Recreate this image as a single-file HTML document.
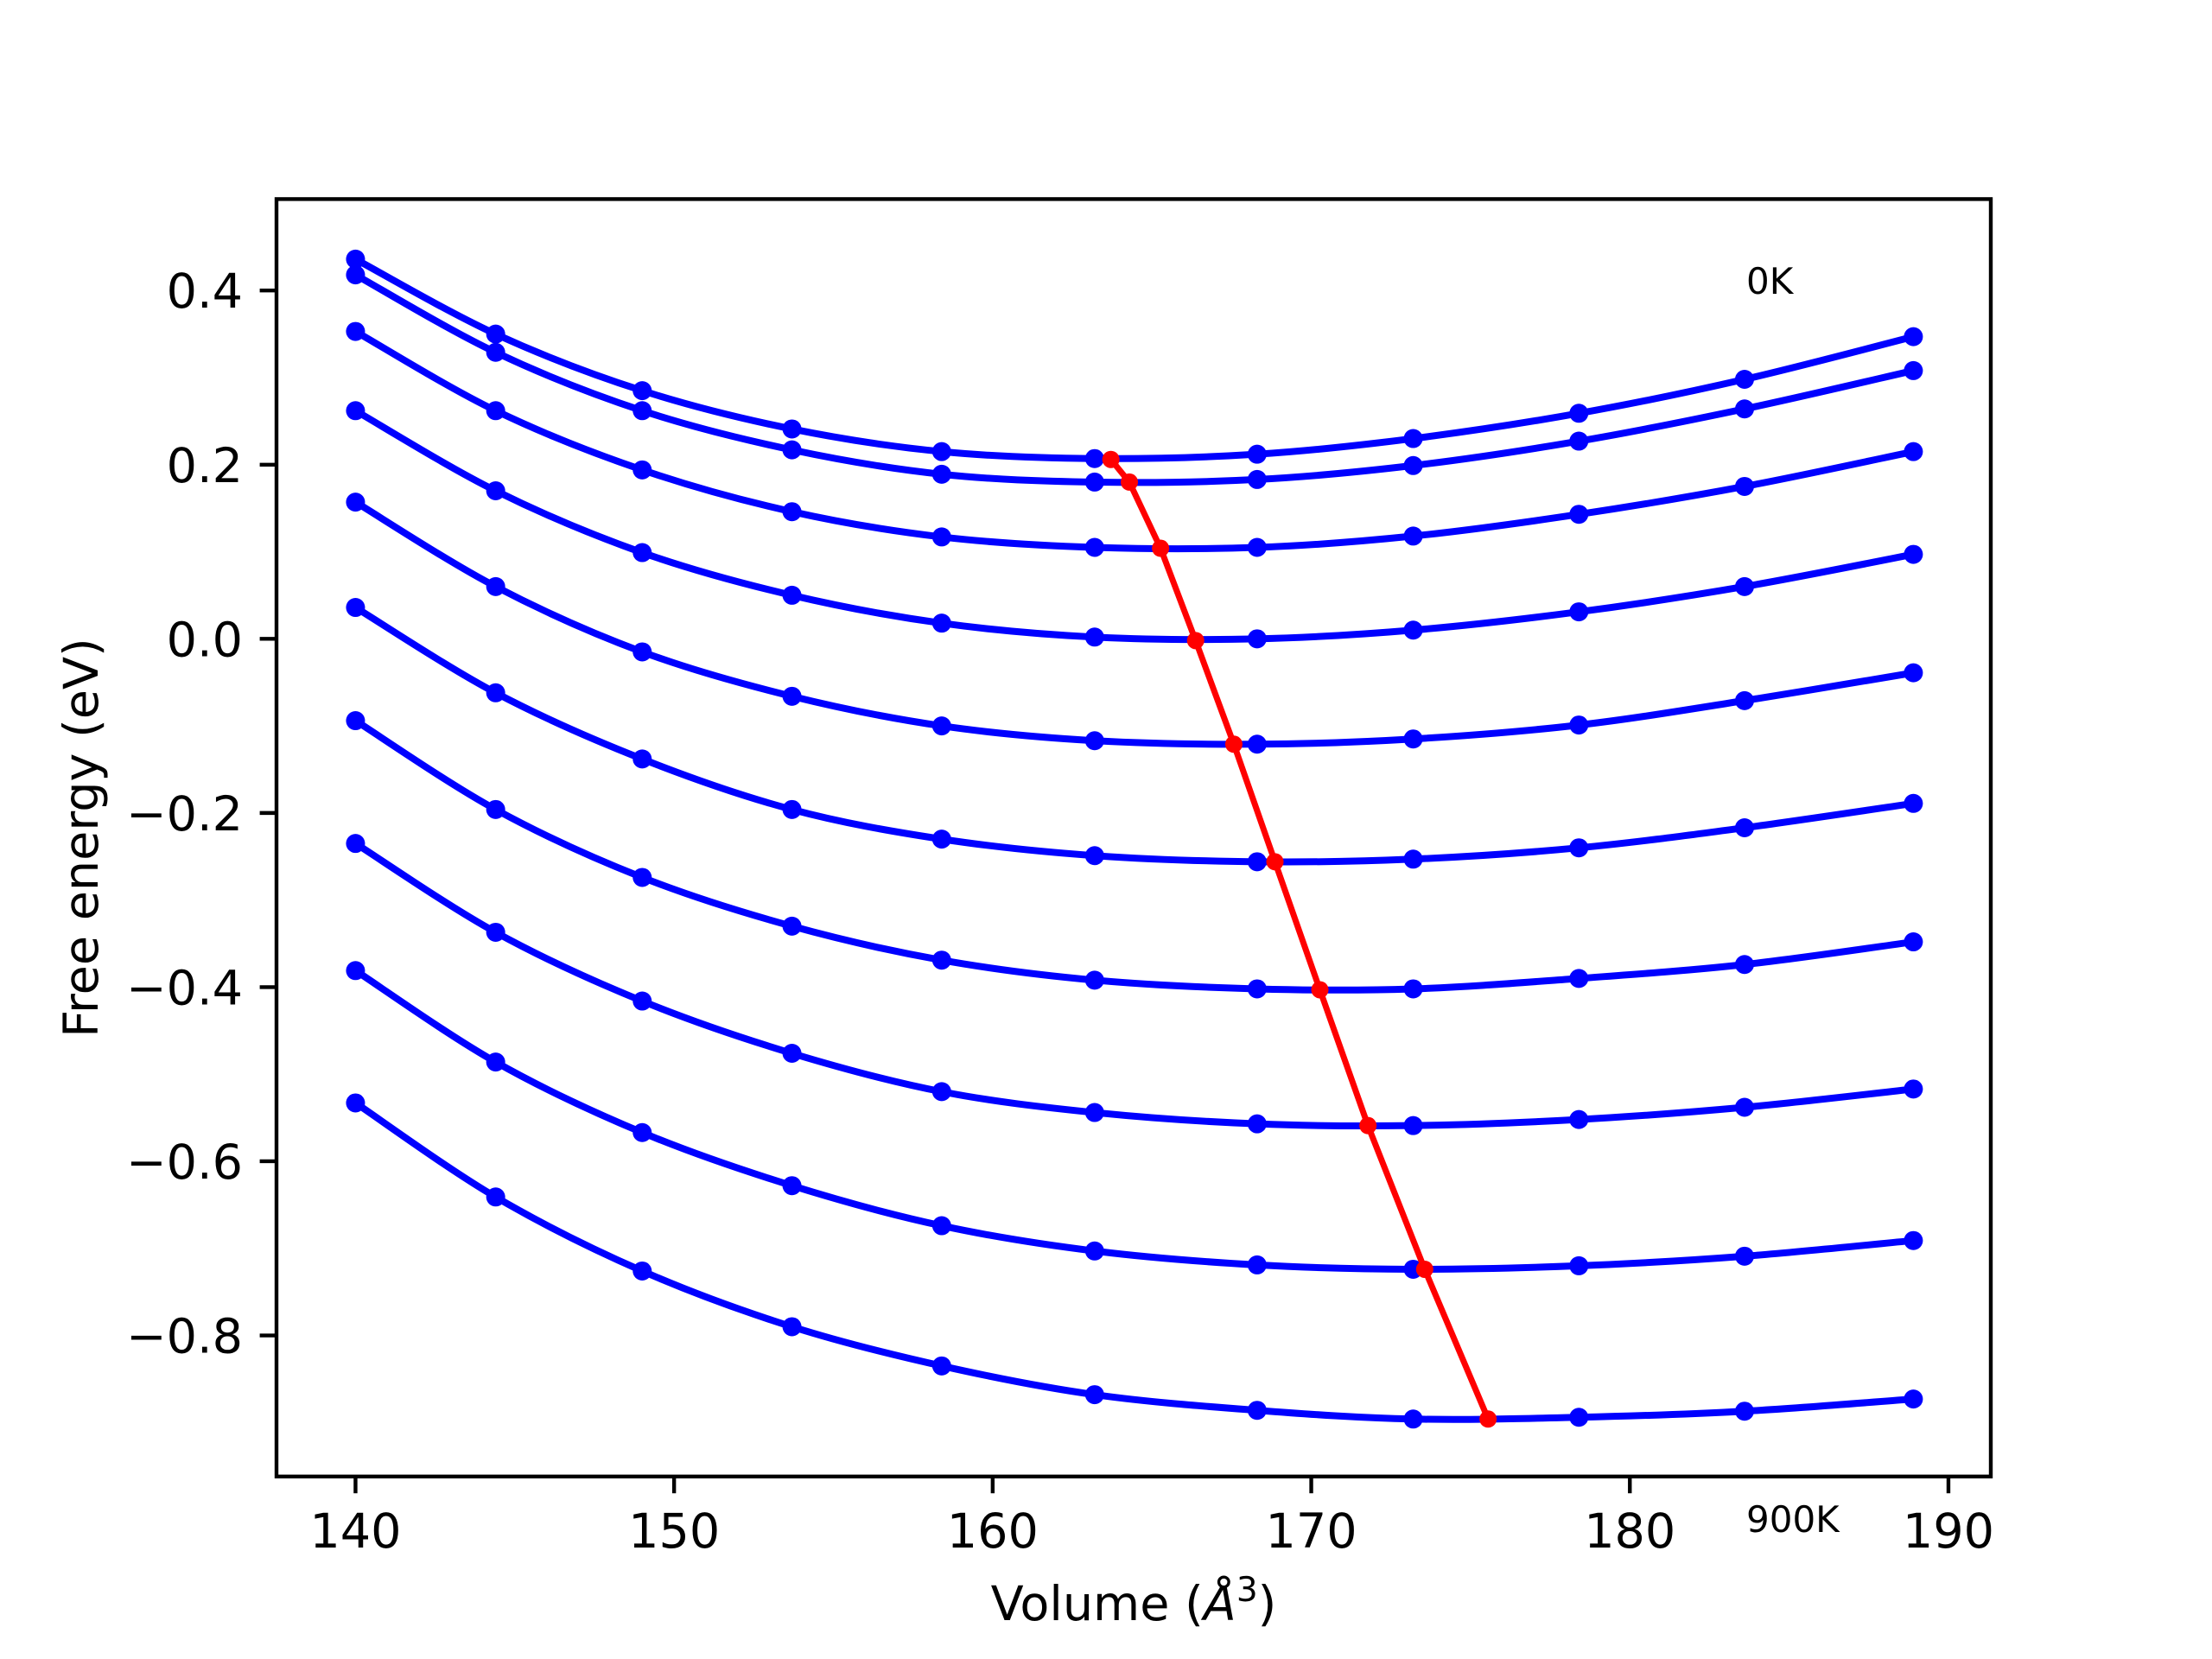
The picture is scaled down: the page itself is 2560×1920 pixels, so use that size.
<!DOCTYPE html>
<html><head><meta charset="utf-8">
<style>
html,body{margin:0;padding:0;background:#fff;}
svg{display:block;}
text{font-family:"DejaVu Sans","Liberation Sans",sans-serif;fill:#000;}
</style></head>
<body>
<svg id="chart" width="2560" height="1920" viewBox="0 0 2560 1920" xmlns="http://www.w3.org/2000/svg">
<rect x="0" y="0" width="2560" height="1920" fill="#fff"/>
<g id="plot"></g>
<g id="axes"></g>
<text x="2021" y="340" font-size="42">0K</text>
<text x="2021" y="1773" font-size="42">900K</text>
<text x="1312" y="1875" font-size="55.6" text-anchor="middle">Volume (<tspan font-style="italic">Å</tspan><tspan font-size="39" dy="-22">3</tspan><tspan dy="22">)</tspan></text>
<text x="0" y="0" font-size="55.6" text-anchor="middle" transform="translate(113,969.6) rotate(-90)">Free energy (eV)</text>
</svg>
<script>
const volumes = [140, 144.4, 149.0, 153.7, 158.4, 163.2, 168.3, 173.2, 178.4, 183.6, 188.9];
const curve0 = [0.436, 0.350, 0.285, 0.241, 0.215, 0.207, 0.212, 0.230, 0.259, 0.298, 0.347];
const curve1 = [0.418, 0.329, 0.262, 0.217, 0.189, 0.180, 0.183, 0.199, 0.227, 0.264, 0.308];
const curve2 = [0.353, 0.262, 0.194, 0.146, 0.117, 0.105, 0.105, 0.118, 0.143, 0.175, 0.215];
const curve3 = [0.262, 0.170, 0.099, 0.050, 0.018, 0.002, 0.000, 0.010, 0.031, 0.060, 0.097];
const curve4 = [0.157, 0.060, -0.015, -0.066, -0.100, -0.117, -0.121, -0.115, -0.099, -0.071, -0.039];
const curve5 = [0.036, -0.062, -0.138, -0.196, -0.230, -0.249, -0.256, -0.253, -0.240, -0.217, -0.189];
const curve6 = [-0.094, -0.196, -0.274, -0.330, -0.369, -0.392, -0.402, -0.402, -0.390, -0.374, -0.348];
const curve7 = [-0.235, -0.337, -0.416, -0.476, -0.520, -0.544, -0.557, -0.559, -0.552, -0.538, -0.517];
const curve8 = [-0.381, -0.486, -0.567, -0.628, -0.674, -0.703, -0.719, -0.724, -0.720, -0.709, -0.691];
const curve9 = [-0.533, -0.641, -0.726, -0.790, -0.835, -0.868, -0.886, -0.896, -0.894, -0.887, -0.873];
const minVolumes = [163.71, 164.29, 165.27, 166.37, 167.57, 168.86, 170.27, 171.78, 173.56, 175.55];
const minEnergies = [0.206, 0.180, 0.104, -0.002, -0.121, -0.256, -0.403, -0.559, -0.724, -0.896];
const xTicks = [140, 150, 160, 170, 180, 190];
const yTicks = [0.4, 0.2, 0.0, -0.2, -0.4, -0.6, -0.8];
const yTickLabels = ["0.4", "0.2", "0.0", "\u22120.2", "\u22120.4", "\u22120.6", "\u22120.8"];

const curves = [curve0, curve1, curve2, curve3, curve4, curve5, curve6, curve7, curve8, curve9];
const L = 320, R = 2304, T = 230.4, B = 1708.8;
const xMin = 137.52, xMax = 191.33, yMin = -0.962, yMax = 0.505;
function sx(v){ return L + (v - xMin) / (xMax - xMin) * (R - L); }
function sy(v){ return B - (v - yMin) / (yMax - yMin) * (B - T); }
const NS = "http://www.w3.org/2000/svg";
const plot = document.getElementById('plot');
const axes = document.getElementById('axes');
function mk(tag, attrs, parent){ const e = document.createElementNS(NS, tag); for (const k in attrs) e.setAttribute(k, attrs[k]); parent.appendChild(e); return e; }

function smoothPath(xs, ys){
  const P = xs.map((x,i)=>[sx(x), sy(ys[i])]);
  let d = `M${P[0][0]},${P[0][1]}`;
  for (let i=0;i<P.length-1;i++){
    const p0 = P[i-1]||P[i], p1=P[i], p2=P[i+1], p3=P[i+2]||P[i+1];
    const c1=[p1[0]+(p2[0]-p0[0])/6, p1[1]+(p2[1]-p0[1])/6];
    const c2=[p2[0]-(p3[0]-p1[0])/6, p2[1]-(p3[1]-p1[1])/6];
    d += ` C${c1[0]},${c1[1]} ${c2[0]},${c2[1]} ${p2[0]},${p2[1]}`;
  }
  return d;
}

curves.forEach((c, ci) => {
  const p = mk('path', {d: smoothPath(volumes, c), fill:'none', stroke:'#0000ff', 'stroke-width':8, 'stroke-linejoin':'round'}, plot);
  
  
  c.forEach((v, i) => {
    const m = mk('circle', {cx: sx(volumes[i]), cy: sy(v), r: 11, fill:'#0000ff'}, plot);
    
    
  });
});
const redPts = minVolumes.map((x,i)=>`${sx(x)},${sy(minEnergies[i])}`).join(' ');
const rl = mk('polyline', {points: redPts, fill:'none', stroke:'#ff0000', 'stroke-width':7, 'stroke-linejoin':'round'}, plot);


minVolumes.forEach((x,i)=>{
  const m = mk('circle', {cx: sx(x), cy: sy(minEnergies[i]), r: 10, fill:'#ff0000'}, plot);
  
  
});

const frame = mk('rect', {x:L, y:T, width:R-L, height:B-T, fill:'none', stroke:'#000', 'stroke-width':4.4}, axes);


xTicks.forEach(t => {
  const x = sx(t);
  const tk = mk('line', {x1:x, y1:B, x2:x, y2:B+19.4, stroke:'#000', 'stroke-width':4.4}, axes);
  
  
  const tx = mk('text', {x:x, y:1791, 'font-size':55.6, 'text-anchor':'middle'}, axes);
  tx.textContent = String(t);
  
  
});
yTicks.forEach((t, i) => {
  const y = sy(t);
  const tk = mk('line', {x1:L-19.4, y1:y, x2:L, y2:y, stroke:'#000', 'stroke-width':4.4}, axes);
  
  
  const tx = mk('text', {x:281, y:y+20, 'font-size':55.6, 'text-anchor':'end'}, axes);
  tx.textContent = yTickLabels[i];
  
  
});
</script>
</body></html>
